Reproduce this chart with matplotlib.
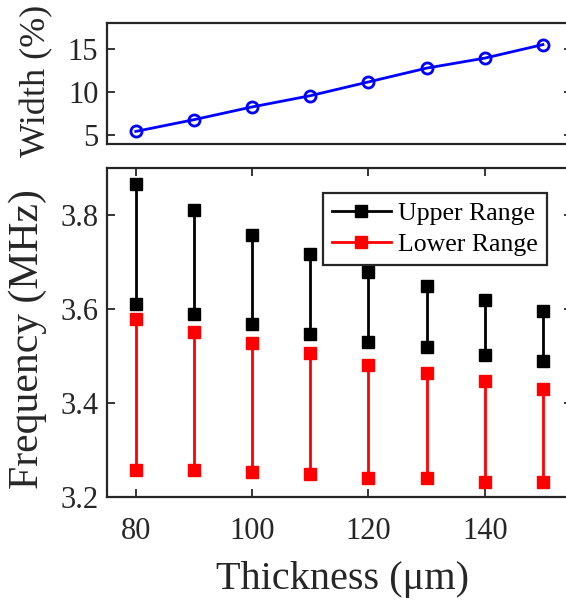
import numpy as np
import matplotlib
matplotlib.use("Agg")
import matplotlib.pyplot as plt
from matplotlib.lines import Line2D

plt.rcParams['font.family'] = ['Liberation Serif', 'DejaVu Serif']

thickness = [80, 90, 100, 110, 120, 130, 140, 150]
width_pct = [5.46, 6.82, 8.3, 9.6, 11.2, 12.8, 13.96, 15.53]
upper_hi = [3.865, 3.811, 3.758, 3.717, 3.678, 3.649, 3.620, 3.595]
upper_lo = [3.611, 3.590, 3.569, 3.548, 3.531, 3.519, 3.502, 3.489]
lower_hi = [3.578, 3.552, 3.527, 3.506, 3.482, 3.464, 3.447, 3.430]
lower_lo = [3.257, 3.257, 3.253, 3.250, 3.240, 3.240, 3.232, 3.232]

W, H = 566, 600
fig = plt.figure(figsize=(W / 100, H / 100), dpi=100)

# axes boxes in pixels: left, top, right, bottom (right edge runs past the canvas)
def px_axes(l, t, r, b):
    return fig.add_axes([l / W, 1 - b / H, (r - l) / W, (b - t) / H])

ax1 = px_axes(106.7, 23.3, 572, 144)
ax2 = px_axes(106.7, 168, 572, 497.3)

spine_col = '#262626'
for ax in (ax1, ax2):
    for s in ax.spines.values():
        s.set_linewidth(1.6)
        s.set_color(spine_col)
    ax.tick_params(direction='in', length=6, width=1.3, colors=spine_col,
                   labelsize=22, labelcolor='#262626', top=True, right=True, pad=6)
    ax.set_xlim(75, 155)
ax2.tick_params(axis='x', pad=14)

# bandwidth vs thickness
ax1.plot(thickness, width_pct, color='#0000ff', lw=2, marker='o', ms=8,
         mfc='none', mew=2)
ax1.set_ylim(4, 18)
ax1.set_yticks([5, 10, 15])
ax1.set_xticks([])

# frequency ranges drawn as vertical bars with square end markers
for x, hi, lo in zip(thickness, upper_hi, upper_lo):
    ax2.plot([x, x], [lo, hi], color='black', lw=2, marker='s', ms=9)
for x, hi, lo in zip(thickness, lower_hi, lower_lo):
    ax2.plot([x, x], [lo, hi], color='#ff0000', lw=2, marker='s', ms=9)
ax2.set_ylim(3.2, 3.9)
ax2.set_yticks([3.2, 3.4, 3.6, 3.8])
ax2.set_yticklabels(['3.2', '3.4', '3.6', '3.8'])
ax2.set_xticks([80, 100, 120, 140])

handles = [Line2D([], [], color='black', lw=2, marker='s', ms=9),
           Line2D([], [], color='#ff0000', lw=2, marker='s', ms=9)]
leg = ax2.legend(handles, ['Upper Range', 'Lower Range'], loc='upper left',
                 bbox_to_anchor=((322.7 - 106.7) / 465.3, 1 - (193.3 - 168) / 329.3),
                 fontsize=18.5, frameon=True, fancybox=False, edgecolor=spine_col,
                 handlelength=2.3, handletextpad=0.3, borderpad=0.35,
                 labelspacing=0.3, borderaxespad=0, framealpha=1)
leg.get_frame().set_linewidth(1.6)

fig.text(37 / W, 1 - 81 / H, 'Width (%)', rotation=90, ha='center', va='center',
         fontsize=26, color='#262626')
fig.text(28 / W, 1 - 339 / H, 'Frequency (MHz)', rotation=90, ha='center',
         va='center', fontsize=30, color='#262626')
fig.text(342 / W, 1 - 579 / H, 'Thickness (\u03bcm)', ha='center', va='center',
         fontsize=29, color='#262626')

fig.savefig('out.png', dpi=100)
